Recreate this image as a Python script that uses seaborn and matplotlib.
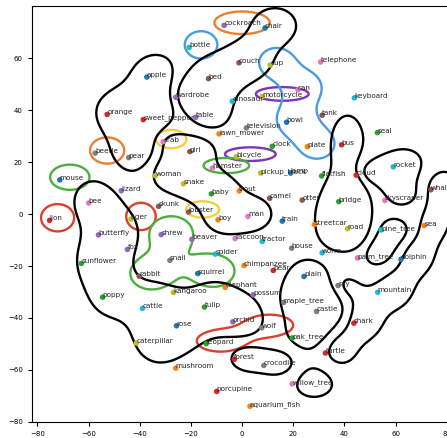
import numpy as np
import pandas as pd
import matplotlib
matplotlib.use("Agg")
import matplotlib.pyplot as plt
import seaborn as sns

# class names (alphabetical, colour = tab10 cycled over this order)
labels = ["apple", "aquarium_fish", "baby", "bear", "beaver", "bed", "bee", "beetle",
          "bicycle", "bottle", "bowl", "boy", "bridge", "bus", "butterfly", "camel",
          "can", "castle", "caterpillar", "cattle", "chair", "chimpanzee", "clock",
          "cloud", "cockroach", "couch", "crab", "crocodile", "cup", "dinosaur",
          "dolphin", "elephant", "flatfish", "forest", "fox", "girl", "hamster",
          "house", "kangaroo", "keyboard", "lamp", "lawn_mower", "leopard", "lion",
          "lizard", "lobster", "man", "maple_tree", "motorcycle", "mountain", "mouse",
          "mushroom", "oak_tree", "orange", "orchid", "otter", "palm_tree", "pear",
          "pickup_truck", "pine_tree", "plain", "plate", "poppy", "porcupine",
          "possum", "rabbit", "raccoon", "ray", "road", "rocket", "rose", "sea",
          "seal", "shark", "shrew", "skunk", "skyscraper", "snail", "snake",
          "spider", "squirrel", "streetcar", "sunflower", "sweet_pepper", "table",
          "tank", "telephone", "television", "tiger", "tractor", "train", "trout",
          "tulip", "turtle", "wardrobe", "whale", "willow_tree", "wolf", "woman",
          "worm"]

xs = [-37.2, 3.1, -12.0, 12.2, -19.6, -13.1, -59.9, -57.4,
      -2.2, -20.7, 17.4, -9.4, 37.8, 38.9, -56.1, 10.8,
      21.9, 29.1, -41.3, -38.9, 9.0, 0.8, 11.8,
      44.6, -7.0, -1.2, -30.8, 8.5, 11.0, -3.8,
      62.1, -6.6, 31.1, -3.0, -44.8, -20.4, -11.6,
      19.4, -26.8, 43.9, 19.0, -9.0, -14.0, -75.2,
      -47.2, -20.9, 2.3, 16.3, 7.9, 53.0, -71.2,
      -25.9, 19.6, -52.7, -3.6, 23.5, 45.1, -44.3,
      7.3, 54.3, 24.2, 25.5, -54.5, -9.9,
      4.3, -40.2, -2.7, 37.5, 41.2, 59.1, -25.6, 71.2,
      52.9, 43.7, -31.6, -32.6, 55.8, -28.2, -22.9,
      -10.5, -17.3, 28.3, -62.8, -38.6, -18.1,
      31.3, 30.7, 1.7, -43.4, 7.9, 15.7, -1.1,
      -14.7, 32.6, -25.9, 73.8, 19.6, 7.7, -33.9,
      31.3]

ys = [52.8, -74.0, 7.8, -21.7, -9.7, 52.2, 4.3, 23.5,
      22.1, 64.2, 35.4, -2.2, 4.8, 26.7, -8.0, 6.1,
      47.9, -37.5, -49.7, -36.3, 71.7, -19.8, 26.1,
      15.0, 72.7, 58.3, 27.9, -58.3, 57.4, 43.5,
      -17.4, -28.2, 14.7, -55.9, -13.6, 24.1, 17.7,
      -13.1, -30.2, 44.8, 15.8, 30.9, -49.9, -2.4,
      9.0, 0.8, -0.9, -34.0, 45.3, -30.1, 13.2,
      -59.3, -47.7, 38.4, -41.5, 5.4, -16.9, 21.8,
      15.8, -6.1, -24.0, 26.0, -32.0, -68.3,
      -31.1, -23.9, -9.4, -27.5, -5.6, 18.2, -43.0, -4.4,
      31.4, -42.0, -7.9, 3.0, 5.3, -17.8, 11.7,
      -15.4, -22.9, -4.0, -19.0, 36.4, 37.3,
      38.1, 58.6, 33.2, -1.9, -10.5, -2.7, 8.9,
      -35.8, -53.5, 45.0, 9.4, -65.4, -43.8, 14.8,
      -14.9]

# groups that get an outline
furniture = ["chair", "couch", "bed", "wardrobe", "table"]
fruit = ["apple", "orange", "sweet_pepper", "pear"]
containers = ["cup", "can", "bowl", "plate"]
people = ["crab", "girl", "woman", "snake", "baby", "boy", "man"]
sky = ["cloud", "rocket", "skyscraper"]
street = ["bus", "bridge", "streetcar", "road"]
flowers = ["bee", "butterfly", "sunflower", "poppy", "cattle", "caterpillar",
           "rose", "tulip", "orchid"]
small_mammals = ["shrew", "rabbit", "squirrel"]
cats = ["leopard", "wolf"]
forest_grp = ["forest", "crocodile"]
trees = ["pine_tree", "palm_tree", "plain", "maple_tree", "castle", "oak_tree",
         "willow_tree"]
water = ["whale", "sea", "dolphin", "mountain", "ray", "shark", "turtle"]

df = pd.DataFrame({"label": labels, "x": xs, "y": ys})

fig = plt.figure(figsize=(4.47, 4.38), dpi=100)
ax = fig.add_axes([0.0709, 0.0358, 0.9412, 0.9507])

# outlines: smooth iso-line of a sum of gaussians placed on the label centres
gx, gy = np.meshgrid(np.linspace(-90, 100, 700), np.linspace(-90, 90, 700))
pos = df.set_index("label")


def density(names, hx, hy):
    field = np.zeros_like(gx)
    for n in names:
        cx = pos.loc[n, "x"] + 0.78 * len(n)
        cy = pos.loc[n, "y"] + 1.0
        field += np.exp(-0.5 * (((gx - cx) / hx) ** 2 + ((gy - cy) / hy) ** 2))
    return field


def draw(field, color, level=0.6):
    ax.contour(gx, gy, field, levels=[level], colors=[color], linewidths=1.7, zorder=1)


blue, orange, green = "#4a9be6", "#e8812f", "#4cae3c"
red, purple, yellow = "#d9412c", "#7b35bb", "#f3cf3c"

singles = [("cockroach", orange, 10.7, 4.3), ("bottle", blue, 6.3, 5.2),
           ("beetle", orange, 6.6, 5.0), ("crab", yellow, 5.9, 3.5),
           ("lobster", yellow, 6.4, 3.1), ("motorcycle", purple, 10.2, 2.6),
           ("bicycle", purple, 9.8, 2.6), ("hamster", green, 8.8, 2.9),
           ("mouse", green, 7.6, 4.8), ("lion", red, 6.4, 5.2),
           ("tiger", red, 5.7, 5.2)]
for n, c, hx, hy in singles:
    draw(density([n], hx, hy), c)

draw(density(containers, 6.5, 5.5), blue)
draw(density(small_mammals, 8.0, 6.0), green)
draw(density(cats, 9.0, 4.0), red)

# black outlines push each other away so neighbouring ones run side by side
black = [(furniture, 8.0, 6.5, 0.6), (fruit, 8.5, 7.5, 0.6), (people, 6.5, 5.5, 0.6),
         (sky, 7.0, 5.5, 0.6), (street, 6.0, 10.0, 0.6), (flowers, 7.5, 7.5, 0.6),
         (forest_grp, 6.5, 5.0, 0.6), (trees, 8.0, 6.0, 0.6), (water, 6.5, 6.5, 0.6)]
fields = [density(g, hx, hy) for g, hx, hy, _ in black]
total = sum(fields)
for (g, hx, hy, lev), f in zip(black, fields):
    draw(f - 0.6 * (total - f), "black", lev)

sns.scatterplot(data=df, x="x", y="y", hue="label", hue_order=labels,
                palette=sns.color_palette("tab10", len(labels)), s=16,
                linewidth=0, legend=False, ax=ax, zorder=3)
for n, px, py in zip(labels, xs, ys):
    ax.text(px, py, n, fontsize=5.2, color="#262626", zorder=4)

ax.set_xlim(-82.2, 82.2)
ax.set_ylim(-80.2, 80.2)
ax.set_xticks(range(-80, 81, 20))
ax.set_yticks(range(-80, 61, 20))
ax.tick_params(labelsize=5, length=3)
ax.set_xlabel("")
ax.set_ylabel("")

fig.savefig("out.png", dpi=100)
